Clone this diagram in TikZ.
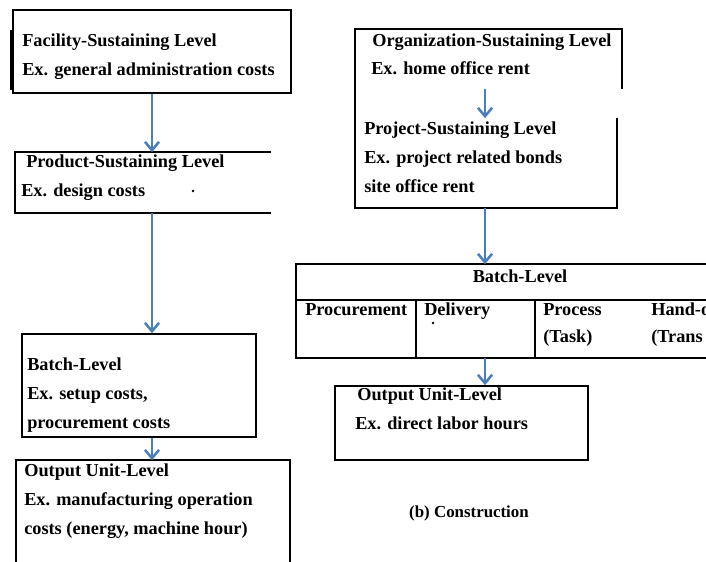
\documentclass[tikz,border=0pt]{standalone}
\usepackage{fontspec}
\setmainfont{Liberation Serif}
\usetikzlibrary{arrows.meta,fit}
\definecolor{flowblue}{RGB}{74,126,187}
\tikzset{
  frame/.style={inner sep=0pt, line width=1.1pt},
  lbl/.style={anchor=base west, inner sep=0pt, font=\fontsize{13}{15}\selectfont\bfseries},
  flow/.style={flowblue, line width=1.8pt, -{Straight Barb[length=6pt,width=10pt]}},
}
\begin{document}
\begin{tikzpicture}[x=0.025cm, y=-0.025cm, line join=miter]
	\useasboundingbox (0,0) rectangle (706,561);
	\clip (0,0) rectangle (706,561);

	% Colonne de gauche : cadres
	\node[frame, draw, fit={(13,10) (291,93)}] (facility) {};
	\draw[line width=1.1pt] (11,30) -- (11,90);
	\node[frame, fit={(16,153) (270,212)}] (product) {};
	\draw[frame] (product.north east) -- (product.north west) -- (product.south west) -- (product.south east);
	\node[frame, draw, fit={(22,334) (256,437)}] (batch) {};
	\node[frame, fit={(17,461) (289,575)}] (unit) {};
	\draw[frame] (unit.south west) -- (unit.north west) -- (unit.north east) -- (unit.south east);

	% Colonne de gauche : textes
	\node[lbl] (facility-a) at (22,46) {Facility-Sustaining Level};
	\node[lbl] (facility-b) at (22,75) {Ex. general administration costs};
	\node[lbl] (product-a) at (26,167) {Product-Sustaining Level};
	\node[lbl] (product-b) at (21,196) {Ex. design costs};
	\fill (193,191) circle (0.9pt);
	\node[lbl] (batch-a) at (27,370) {Batch-Level};
	\node[lbl] (batch-b) at (27,399) {Ex. setup costs,};
	\node[lbl] (batch-c) at (27,428) {procurement costs};
	\node[lbl] (unit-a) at (24,476) {Output Unit-Level};
	\node[lbl] (unit-b) at (24,505) {Ex. manufacturing operation};
	\node[lbl] (unit-c) at (24,534) {costs (energy, machine hour)};

	% Colonne de gauche : flèches
	\draw[flow] (facility.south) -- (facility.south |- product.north);
	\draw[flow] (product.south -| facility.south) -- (facility.south |- batch.north);
	\draw[flow] (batch.south -| facility.south) -- (facility.south |- unit.north);

	% Colonne de droite : cadres
	\coordinate (axis) at (485,0);
	\node[frame, fit={(356,30) (621,88)}] (org) {};
	\node[frame, fit={(356,119) (616,207)}] (project) {};
	\draw[frame] (org.south east) -- (org.north east) -- (org.north west) -- (project.south west) -- (project.south east) -- (project.north east);
	\node[frame, fit={(297,265) (720,357)}] (stage) {};
	\draw[frame] (stage.north east) -- (stage.north west) -- (stage.south west) -- (stage.south east);
	\draw[frame] (297,300) -- (720,300);
	\draw[frame] (416,300) -- (416,357);
	\draw[frame] (535,300) -- (535,357);
	\node[frame, draw, fit={(335,386) (588,460)}] (site) {};

	% Colonne de droite : textes
	\node[lbl] (org-a) at (372,46) {Organization-Sustaining Level};
	\node[lbl] (org-b) at (371,74) {Ex. home office rent};
	\node[lbl] (project-a) at (364,134) {Project-Sustaining Level};
	\node[lbl] (project-b) at (364,163) {Ex. project related bonds};
	\node[lbl] (project-c) at (364,192) {site office rent};
	\node[lbl, anchor=base] (stage-a) at (520,282) {Batch-Level};
	\node[lbl] (stage-b) at (305,315) {Procurement};
	\node[lbl] (stage-c) at (424,315) {Delivery};
	\fill (433,323) circle (0.9pt);
	\node[lbl] (stage-d) at (543,315) {Process};
	\node[lbl] (stage-e) at (543,342) {(Task)};
	\node[lbl] (stage-f) at (651,315) {Hand-o};
	\node[lbl] (stage-g) at (651,342) {(Trans};
	\node[lbl] (site-a) at (357,400) {Output Unit-Level};
	\node[lbl] (site-b) at (355,429) {Ex. direct labor hours};
	\node[lbl, anchor=base, font=\fontsize{12}{14}\selectfont\bfseries] (caption) at (469,517) {(b) Construction};

	% Colonne de droite : flèches
	\draw[flow] (org.south -| axis) -- (axis |- project.north);
	\draw[flow] (project.south -| axis) -- (axis |- stage.north);
	\draw[flow] (stage.south -| axis) -- (axis |- site.north);
\end{tikzpicture}
\end{document}
